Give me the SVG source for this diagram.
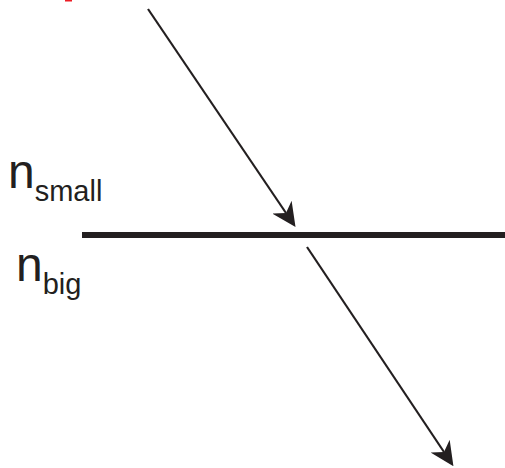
<svg xmlns="http://www.w3.org/2000/svg" width="505" height="468" viewBox="0 0 505 468">
<style>
.lbl{font-family:"Liberation Sans",Arial,sans-serif;font-size:48px;fill:#231f20}
.sub{font-size:29px}
.ray{stroke:#231f20;stroke-width:2.2;fill:none;marker-end:url(#ah)}
</style>
<defs>
<marker id="ah" markerUnits="userSpaceOnUse" markerWidth="24" markerHeight="24" viewBox="0 -12 24 24" refX="7" refY="0" orient="auto">
<path d="M0,-11.5 L24,0 L0,11.5 L7,0 Z" fill="#231f20"/>
</marker>
</defs>
<rect x="65" y="0" width="7" height="1.5" fill="#ed1c24"/>
<g id="interface">
<line x1="82" y1="235" x2="505" y2="235" stroke="#231f20" stroke-width="6"/>
</g>
<g id="label-small">
<text class="lbl" x="8" y="188">n<tspan class="sub" dy="13">small</tspan></text>
</g>
<g id="label-big">
<text class="lbl" x="16" y="281">n<tspan class="sub" dy="13">big</tspan></text>
</g>
<g id="connectors">
<line class="ray" x1="148" y1="9" x2="286" y2="213"/>
<line class="ray" x1="307" y1="247" x2="444" y2="452"/>
</g>
</svg>
